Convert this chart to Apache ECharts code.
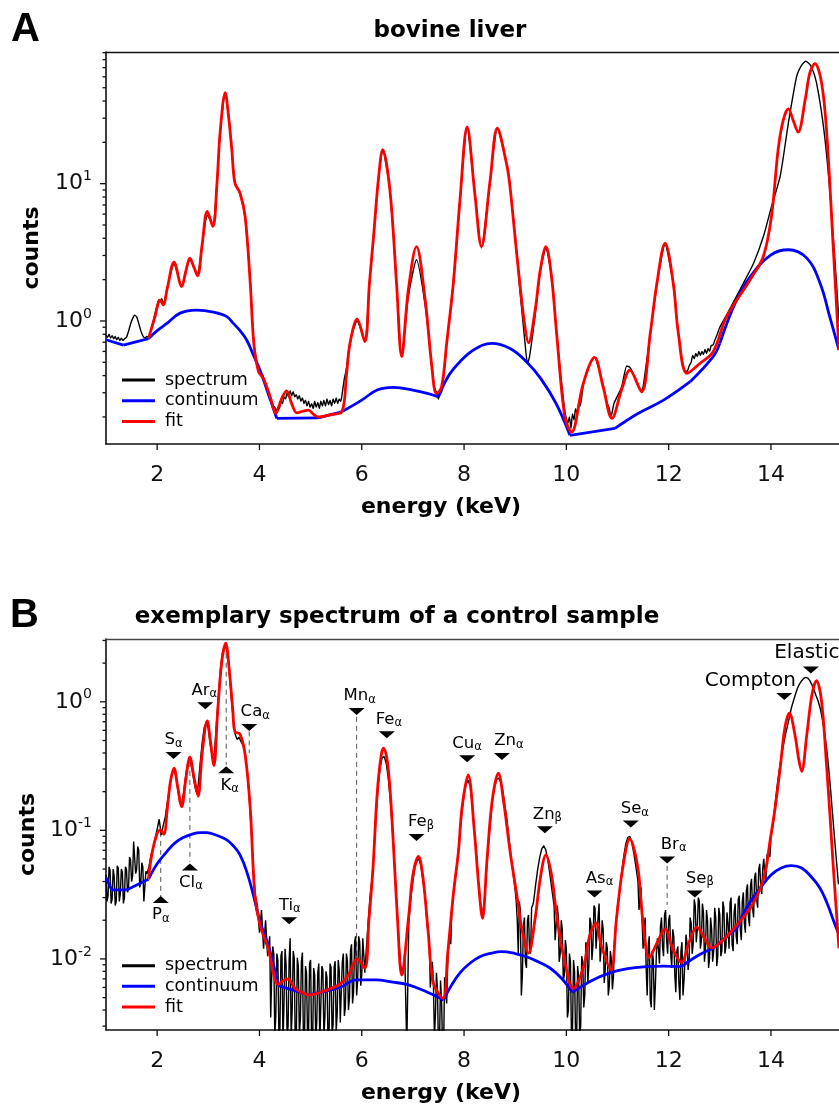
<!DOCTYPE html>
<html><head><meta charset="utf-8">
<script src="https://cdn.jsdelivr.net/npm/echarts@6/dist/echarts.min.js"></script>
<style>html,body{margin:0;padding:0;background:#fff}#c{width:839px;height:1106px}</style>
</head><body><div id="c"></div>
<script>
// ---------------- DATA ----------------
const xTickLabels = [2, 4, 6, 8, 10, 12, 14];
const yMajorA = [1, 10];
const yMinorA = [0.2,0.3,0.4,0.5,0.6,0.7,0.8,0.9,2,3,4,5,6,7,8,9,20,30,40,50,60,70,80,90];
const yMajorB = [0.01, 0.1, 1];
const yMinorB = [0.003,0.004,0.005,0.006,0.007,0.008,0.009,0.02,0.03,0.04,0.05,0.06,0.07,0.08,0.09,0.2,0.3,0.4,0.5,0.6,0.7,0.8,0.9,2,3];
const seriesNames = ['spectrum', 'continuum', 'fit'];

// Panel A: bovine liver  [energy keV, counts]
const fitA = [[1.83,0.743],[1.95,1.05],[2.06,1.42],[2.12,1.31],[2.2,1.75],[2.33,2.68],[2.48,1.78],[2.56,2.3],[2.64,2.87],[2.72,2.45],[2.79,2.13],[2.88,3.6],[2.98,6.28],[3.09,4.88],[3.17,10.1],[3.23,23.3],[3.33,46],[3.4,30],[3.46,17.6],[3.52,10.1],[3.62,8.55],[3.72,5.77],[3.82,1.89],[3.89,0.687],[3.98,0.43],[4.08,0.38],[4.21,0.28],[4.32,0.212],[4.43,0.27],[4.53,0.31],[4.63,0.25],[4.73,0.214],[4.85,0.22],[4.96,0.224],[5.05,0.21],[5.15,0.2],[5.4,0.208],[5.61,0.218],[5.7,0.4],[5.77,0.687],[5.91,1.03],[6.06,0.706],[6.15,1.88],[6.23,4.1],[6.33,11.2],[6.41,17.7],[6.55,9.0],[6.68,1.88],[6.78,0.55],[6.91,1.68],[7.07,3.48],[7.24,1.42],[7.37,0.465],[7.46,0.296],[7.56,0.33],[7.66,0.687],[7.79,1.88],[7.92,7.6],[8.06,25.9],[8.21,8.5],[8.34,3.48],[8.51,10.6],[8.65,25.4],[8.83,14],[8.89,10.1],[8.99,4.35],[9.09,1.88],[9.19,0.91],[9.26,0.694],[9.39,1.2],[9.49,2.35],[9.6,3.48],[9.71,2.1],[9.81,0.81],[9.97,0.2],[10.1,0.155],[10.33,0.35],[10.55,0.543],[10.72,0.33],[10.89,0.195],[11.08,0.315],[11.24,0.439],[11.47,0.305],[11.64,0.81],[11.77,1.88],[11.93,3.69],[12.09,1.88],[12.19,0.81],[12.36,0.415],[12.61,0.49],[12.87,0.597],[13.13,1.07],[13.59,1.99],[13.85,2.95],[14.01,5.78],[14.14,17.7],[14.24,29],[14.34,35],[14.44,28.5],[14.53,23.7],[14.67,41],[14.76,64],[14.86,75],[14.99,54],[15.09,23.4],[15.22,3.3],[15.33,0.614]];
const contA = [[1.0,0.73],[1.34,0.667],[1.83,0.743],[2.0,0.85],[2.19,0.96],[2.45,1.14],[2.77,1.2],[3.1,1.16],[3.36,1.075],[3.49,0.96],[3.62,0.85],[3.75,0.727],[3.88,0.565],[4.01,0.44],[4.17,0.296],[4.34,0.195],[5.15,0.197],[5.61,0.218],[6.0,0.265],[6.3,0.314],[6.62,0.328],[7.0,0.314],[7.3,0.296],[7.5,0.28],[7.7,0.4],[7.92,0.505],[8.2,0.62],[8.54,0.687],[8.9,0.63],[9.22,0.505],[9.5,0.38],[9.8,0.25],[10.07,0.147],[10.95,0.165],[11.4,0.212],[11.9,0.265],[12.42,0.361],[12.87,0.55],[13.0,0.687],[13.3,1.35],[13.6,2.11],[14.0,3.03],[14.34,3.3],[14.7,2.87],[14.96,1.885],[15.15,1.07],[15.33,0.614]];
const contKinksA = [1.34, 1.83, 4.34, 5.15, 5.61, 7.5, 10.07, 10.95, 12.42, 13.0];
const specA = [[1.00,0.79],[1.03,0.76],[1.06,0.8],[1.09,0.75],[1.12,0.78],[1.15,0.74],[1.18,0.77],[1.21,0.73],[1.24,0.76],[1.27,0.72],[1.30,0.75],[1.33,0.72],[1.36,0.74],[1.40,0.76],[1.44,0.84],[1.48,0.95],[1.52,1.04],[1.56,1.1],[1.60,1.07],[1.64,0.96],[1.68,0.85],[1.72,0.78],[1.76,0.75],[1.80,0.77],[1.83,0.76],[1.95,1.1],[2.0,1.3],[2.03,1.42],[2.06,1.38],[2.09,1.45],[2.12,1.33],[2.2,1.75],[2.33,2.6],[2.48,1.8],[2.56,2.3],[2.64,2.8],[2.72,2.45],[2.79,2.2],[2.88,3.6],[2.98,5.9],[3.02,5.6],[3.09,5.0],[3.17,10.1],[3.23,23.3],[3.33,45],[3.4,30],[3.46,17.6],[3.52,10.1],[3.62,8.4],[3.72,5.6],[3.82,1.9],[3.89,0.7],[3.95,0.5],[4.00,0.44],[4.03,0.4],[4.06,0.41],[4.09,0.36],[4.12,0.35],[4.15,0.31],[4.18,0.3],[4.21,0.27],[4.24,0.26],[4.27,0.24],[4.30,0.235],[4.33,0.22],[4.36,0.235],[4.39,0.23],[4.42,0.26],[4.45,0.25],[4.48,0.28],[4.51,0.27],[4.54,0.3],[4.57,0.28],[4.60,0.31],[4.63,0.285],[4.66,0.305],[4.69,0.28],[4.72,0.29],[4.75,0.27],[4.78,0.285],[4.81,0.26],[4.84,0.275],[4.87,0.25],[4.90,0.265],[4.93,0.24],[4.96,0.26],[4.99,0.235],[5.02,0.25],[5.05,0.23],[5.08,0.26],[5.11,0.235],[5.14,0.255],[5.17,0.23],[5.20,0.26],[5.23,0.24],[5.26,0.265],[5.29,0.24],[5.32,0.27],[5.35,0.245],[5.38,0.265],[5.41,0.24],[5.44,0.27],[5.47,0.25],[5.50,0.275],[5.53,0.25],[5.56,0.27],[5.59,0.26],[5.62,0.3],[5.66,0.38],[5.7,0.45],[5.77,0.7],[5.91,1.0],[6.06,0.72],[6.15,1.88],[6.23,4.1],[6.33,11.2],[6.41,17.5],[6.55,9.0],[6.68,1.88],[6.78,0.56],[6.91,1.5],[7.07,2.79],[7.24,1.3],[7.37,0.47],[7.42,0.33],[7.46,0.3],[7.5,0.27],[7.53,0.31],[7.56,0.3],[7.66,0.68],[7.79,1.88],[7.92,7.6],[8.06,25.5],[8.21,8.6],[8.34,3.4],[8.51,10.6],[8.65,25],[8.83,14],[8.89,10.1],[8.99,4.4],[9.09,1.7],[9.19,0.7],[9.24,0.49],[9.28,0.55],[9.39,1.1],[9.49,2.3],[9.6,3.4],[9.71,2.1],[9.81,0.8],[9.97,0.22],[10.03,0.18],[10.06,0.2],[10.09,0.165],[10.12,0.21],[10.15,0.19],[10.18,0.23],[10.21,0.21],[10.24,0.25],[10.27,0.24],[10.33,0.34],[10.42,0.45],[10.55,0.54],[10.72,0.34],[10.8,0.25],[10.84,0.23],[10.87,0.2],[10.9,0.22],[10.93,0.25],[11.08,0.33],[11.18,0.47],[11.24,0.46],[11.3,0.42],[11.38,0.35],[11.47,0.31],[11.5,0.33],[11.64,0.8],[11.77,1.85],[11.93,3.6],[12.09,1.85],[12.19,0.8],[12.3,0.44],[12.36,0.43],[12.4,0.47],[12.44,0.5],[12.47,0.56],[12.5,0.53],[12.53,0.58],[12.56,0.55],[12.59,0.6],[12.62,0.56],[12.65,0.6],[12.68,0.57],[12.71,0.62],[12.74,0.58],[12.77,0.63],[12.8,0.6],[12.83,0.66],[12.87,0.67],[12.9,0.72],[12.95,0.8],[13.0,0.9],[13.13,1.1],[13.3,1.45],[13.46,1.88],[13.66,2.63],[13.85,4.1],[14.01,6.8],[14.18,11.3],[14.34,27.6],[14.5,60],[14.6,73],[14.68,78],[14.78,72],[14.89,54.5],[15.05,22.1],[15.19,5.78],[15.33,1.0]];

// Panel B: control sample
const fitB = [[1.83,0.0417],[1.92,0.0727],[2.06,0.101],[2.13,0.0933],[2.2,0.15],[2.26,0.24],[2.33,0.305],[2.4,0.22],[2.48,0.153],[2.56,0.25],[2.64,0.371],[2.72,0.26],[2.8,0.185],[2.88,0.4],[2.98,0.711],[3.04,0.5],[3.11,0.319],[3.18,0.8],[3.26,2.0],[3.34,2.86],[3.42,1.6],[3.48,0.85],[3.52,0.587],[3.62,0.56],[3.72,0.387],[3.82,0.149],[3.91,0.0315],[4.01,0.0184],[4.17,0.0121],[4.37,0.00635],[4.47,0.0068],[4.56,0.00698],[4.68,0.006],[4.79,0.00557],[4.96,0.00525],[5.3,0.0057],[5.57,0.00635],[5.74,0.0075],[5.91,0.01],[6.06,0.00847],[6.14,0.02],[6.22,0.0508],[6.3,0.19],[6.38,0.385],[6.43,0.436],[6.5,0.345],[6.56,0.19],[6.62,0.076],[6.7,0.02],[6.78,0.0075],[6.92,0.022],[7.0,0.045],[7.11,0.0626],[7.2,0.042],[7.3,0.016],[7.4,0.0065],[7.59,0.00494],[7.68,0.011],[7.79,0.0316],[7.89,0.0684],[7.96,0.15],[8.08,0.27],[8.2,0.1],[8.28,0.04],[8.36,0.0207],[8.45,0.06],[8.55,0.17],[8.67,0.279],[8.78,0.16],[8.9,0.0684],[9.03,0.0316],[9.13,0.0172],[9.26,0.0111],[9.39,0.0207],[9.49,0.0423],[9.6,0.0644],[9.71,0.045],[9.81,0.022],[9.94,0.0107],[10.14,0.0059],[10.33,0.0085],[10.46,0.0154],[10.58,0.019],[10.68,0.0128],[10.87,0.0082],[10.98,0.0206],[11.1,0.0504],[11.24,0.0859],[11.4,0.0504],[11.49,0.0207],[11.62,0.0102],[11.78,0.0135],[11.93,0.0171],[12.08,0.012],[12.25,0.0094],[12.4,0.0135],[12.55,0.0177],[12.7,0.0145],[12.84,0.0122],[13.1,0.0145],[13.33,0.0184],[13.6,0.025],[13.79,0.0355],[13.9,0.05],[13.98,0.0818],[14.08,0.148],[14.18,0.305],[14.27,0.621],[14.36,0.817],[14.47,0.55],[14.54,0.363],[14.6,0.287],[14.7,0.55],[14.8,1.13],[14.89,1.46],[14.99,1.0],[15.09,0.305],[15.16,0.12],[15.22,0.0508],[15.33,0.0121]];
const contB = [[1.0,0.043],[1.11,0.0344],[1.4,0.0344],[1.83,0.0417],[2.0,0.055],[2.19,0.0684],[2.35,0.08],[2.51,0.0879],[2.7,0.094],[2.85,0.096],[2.97,0.0961],[3.15,0.092],[3.36,0.0843],[3.5,0.075],[3.62,0.0644],[3.75,0.048],[3.88,0.0315],[4.01,0.0195],[4.17,0.0128],[4.28,0.0088],[4.37,0.0062],[4.96,0.00525],[5.57,0.006],[5.9,0.00687],[6.29,0.00687],[6.6,0.0066],[6.88,0.00635],[7.2,0.0057],[7.6,0.0048],[7.75,0.0062],[7.92,0.0078],[8.12,0.0093],[8.31,0.0104],[8.5,0.011],[8.74,0.0114],[9.0,0.011],[9.22,0.0104],[9.45,0.0095],[9.68,0.0085],[9.9,0.0071],[10.12,0.0055],[10.5,0.0068],[10.85,0.0078],[11.2,0.0084],[11.57,0.0087],[11.9,0.0088],[12.25,0.0087],[12.55,0.0105],[12.87,0.0121],[13.1,0.0145],[13.33,0.0173],[13.55,0.026],[13.79,0.0355],[14.0,0.045],[14.2,0.051],[14.4,0.0532],[14.6,0.051],[14.8,0.043],[14.96,0.0355],[15.1,0.027],[15.22,0.02],[15.33,0.0154]];
const contKinksB = [1.11, 1.4, 1.83, 4.37, 4.96, 7.6, 10.12, 12.25, 12.87, 13.33];
// measured spectrum B: one reading every 0.04 keV starting at 1.00 keV
const specBStart = 1.0, specBStep = 0.04;
const specB = [
0.045,0.031,0.049,0.029,0.044,0.028,0.051,0.032,0.047,0.030,
0.050,0.035,0.059,0.044,0.080,0.050,0.070,0.039,0.052,0.029,
0.046,0.052,0.064,0.072,0.086,0.102,0.122,0.092,0.11,0.128,
0.165,0.21,0.26,0.30,0.27,0.21,0.165,0.158,0.20,0.27,
0.34,0.36,0.30,0.24,0.20,0.22,0.33,0.48,0.63,0.69,
0.62,0.46,0.37,0.40,0.68,1.15,1.85,2.45,2.75,2.55,
1.9,1.2,0.78,0.57,0.51,0.53,0.49,0.46,0.40,0.29,
0.18,0.10,0.05,0.031,0.026,0.016,0.024,0.012,0.02,0.0105,
0.015,0.0075,0.011,0.0036,0.0098,0.0028,0.0115,0.0045,0.0092,0.003,
0.0145,0.004,0.0102,0.0024,0.0088,0.0034,0.0112,0.0023,0.0078,0.0027,
0.0098,0.0023,0.0075,0.0032,0.0092,0.0022,0.0082,0.0036,0.0072,0.0024,
0.0086,0.0031,0.0096,0.0038,0.0082,0.0032,0.011,0.0042,0.0096,0.005,
0.013,0.0055,0.015,0.0068,0.0135,0.0075,0.014,0.0105,0.018,0.03,
0.042,0.07,0.13,0.22,0.31,0.37,0.375,0.33,0.25,0.17,
0.1,0.055,0.028,0.015,0.009,0.0075,0.011,0.002,0.019,0.03,
0.04,0.052,0.058,0.06,0.052,0.04,0.03,0.018,0.014,0.0075,
0.0068,0.0036,0.0058,0.0022,0.0048,0.0021,0.0062,0.009,0.016,0.023,
0.035,0.047,0.064,0.095,0.14,0.19,0.23,0.245,0.22,0.16,
0.1,0.065,0.04,0.027,0.022,0.029,0.05,0.08,0.125,0.18,
0.22,0.25,0.255,0.235,0.2,0.155,0.12,0.085,0.062,0.046,
0.034,0.02,0.028,0.0052,0.018,0.0095,0.02,0.0115,0.025,0.028,
0.038,0.05,0.062,0.072,0.076,0.07,0.058,0.045,0.034,0.026,
0.018,0.022,0.011,0.017,0.0075,0.012,0.004,0.0095,0.0028,0.008,
0.0022,0.0072,0.003,0.0095,0.0052,0.0125,0.009,0.019,0.013,0.025,
0.016,0.027,0.012,0.017,0.0082,0.0122,0.0062,0.01,0.0072,0.017,
0.026,0.033,0.047,0.062,0.078,0.088,0.09,0.08,0.066,0.052,
0.04,0.03,0.02,0.017,0.0085,0.0125,0.0048,0.0115,0.004,0.011,
0.012,0.018,0.0125,0.022,0.014,0.02,0.011,0.017,0.0075,0.0115,
0.0065,0.0115,0.0052,0.01,0.013,0.0098,0.019,0.0132,0.026,0.017,
0.028,0.014,0.023,0.012,0.02,0.0102,0.017,0.0115,0.021,0.0105,
0.022,0.0115,0.025,0.0125,0.019,0.027,0.013,0.023,0.015,0.029,
0.017,0.028,0.019,0.034,0.021,0.037,0.025,0.043,0.029,0.049,
0.037,0.051,0.044,0.063,0.07,0.09,0.11,0.16,0.22,0.29,
0.37,0.45,0.55,0.64,0.76,0.9,1.02,1.15,1.28,1.38,
1.46,1.52,1.55,1.53,1.46,1.36,1.24,1.12,1.02,0.9,
0.75,0.6,0.46,0.33,0.22,0.14,0.09,0.058,0.038];
// extra in-between readings of spectrum B in the noisy stretches (every 0.04 keV from the given start)
const specBMid1Start = 1.02;
const specBMid1 = [0.028,0.052,0.027,0.05,0.026,0.053,0.028,0.05,0.027,0.052,0.033,0.062,0.04,0.082,0.046,0.075,0.036,0.056,0.028,0.048];
const specBMid2Start = 4.22;
const specBMid2 = [0.0035,0.0125,0.0025,0.011,0.0026,0.0105,0.0022,0.012,0.0025,0.0098,
0.0024,0.0115,0.0021,0.0102,0.0026,0.0095,0.0022,0.0088,0.0025,0.0092,
0.0021,0.0085,0.0024,0.0078,0.0022,0.0088,0.0025,0.008,0.0023,0.0092,
0.0026,0.0086,0.0027,0.0098,0.0032,0.0095,0.0036,0.011,0.004,0.0115,
0.0045,0.0135,0.0052,0.015,0.0062,0.0145,0.0078];
const specBMid3Start = 7.34;
const specBMid3 = [0.006,0.0095,0.0025,0.0078,0.002,0.0068,0.002,0.0072,0.0045,0.0135,0.013];
const specBMid4Start = 9.02;
const specBMid4 = [0.028,0.011,0.024,0.0075,0.021,0.0085,0.022,0.011,0.026];
const specBMid5Start = 9.78;
const specBMid5 = [0.014,0.026,0.0095,0.02,0.0068,0.014,0.0035,0.011,0.0024,0.0098,
0.0025,0.0088,0.0026,0.0105,0.0042,0.0135,0.0065,0.021,0.0098,0.026,
0.012,0.021,0.0095,0.02,0.0065,0.0135,0.0052,0.0115,0.0058,0.0135,0.021];
const specBMid6Start = 11.42;
const specBMid6 = [0.024,0.036,0.012,0.021,0.0052,0.015,0.0042,0.0098,0.0062,0.0145,
0.0092,0.021,0.0105,0.024,0.011,0.022,0.0085,0.015,0.0055,0.0125,
0.0048,0.0135,0.0068,0.0155,0.0082,0.021,0.011,0.029,0.0135,0.03,
0.012,0.027,0.0095,0.024,0.0085,0.021,0.0095,0.025,0.0088,0.025,
0.0105,0.028,0.011,0.023,0.012,0.03,0.0115,0.027,0.013,0.031,
0.014,0.033,0.016,0.038,0.018,0.042,0.021,0.047,0.025,0.055,
0.032,0.06,0.04,0.068,0.062];

// Peak annotations (panel B)
const annText = ['S','Ar','Ca','K','Cl','P','Ti','Mn','Fe','Fe','Cu','Zn','Zn','As','Se','Br','Se','Compton','Elastic'];
const annSub  = ['α','α','α','α','α','α','α','α','α','β','α','α','β','α','α','α','β','',''];
const annE    = [2.32,2.94,3.8,3.35,2.64,2.07,4.58,5.9,6.49,7.07,8.06,8.74,9.58,10.55,11.26,11.97,12.51,14.26,14.78];
const annY    = [0.382,0.931,0.631,0.296,0.052,0.029,0.0198,0.84,0.554,0.0879,0.36,0.375,0.101,0.032,0.112,0.0589,0.032,1.1,1.77];
const annPointsDown = [true,true,true,false,false,false,true,true,true,true,true,true,true,true,true,true,true,true,true];
// dashed guide lines (panel B): energy, upper and lower counts
const dashE      = [2.07, 2.64, 3.35, 3.8, 5.9, 11.97];
const dashTop    = [0.0973, 0.341, 2.78, 0.588, 0.764, 0.053];
const dashBottom = [0.0304, 0.0569, 0.323, 0.399, 0.0102, 0.0263];

// ---------------- LAYOUT / STYLE ----------------
const X_MIN = 1, X_MAX = 15.33;
const A_YMIN = 0.127, A_YMAX = 91;
const B_YMIN = 0.0028, B_YMAX = 3.08;
const annLabelDx = [0,-1,6,3.5,1,0,0.7,3,2,4.5,0,7,2.5,5,4,6.5,5,-34,-4];
const FONT = 'DejaVu Sans';
const C_SPEC = '#000000', C_CONT = '#0000ff', C_FIT = '#ff0000';

function stepPairs(start, step, vals) {
  return vals.map((v, i) => [+(start + i * step).toFixed(2), v]);
}
const specBPairs = [].concat(
  stepPairs(specBStart, specBStep, specB),
  stepPairs(specBMid1Start, specBStep, specBMid1),
  stepPairs(specBMid2Start, specBStep, specBMid2),
  stepPairs(specBMid3Start, specBStep, specBMid3),
  stepPairs(specBMid4Start, specBStep, specBMid4),
  stepPairs(specBMid5Start, specBStep, specBMid5),
  stepPairs(specBMid6Start, specBStep, specBMid6)
).sort((a, b) => a[0] - b[0]);

function splitAtKinks(pts, kinks) {
  const segs = []; let cur = [];
  pts.forEach(p => { cur.push(p); if (kinks.indexOf(p[0]) >= 0 && cur.length > 1) { segs.push(cur); cur = [p]; } });
  if (cur.length > 1) segs.push(cur);
  return segs;
}

function powLabel(v) {
  const n = Math.round(Math.log10(v));
  if (Math.abs(v / Math.pow(10, n) - 1) > 1e-6) return '';
  return '{b|10}{s|' + n + '}';
}
function xLabel(v) {
  return xTickLabels.some(t => Math.abs(t - v) < 1e-9) ? String(Math.round(v)) : '';
}

const yLabelRich = {
  b: { fontFamily: FONT, fontSize: 22, lineHeight: 28, color: '#111' },
  s: { fontFamily: FONT, fontSize: 14, lineHeight: 14, verticalAlign: 'top', color: '#111' }
};
const axisLineStyle = { color: '#111', width: 1.6 };
const nameStyle = { fontFamily: FONT, fontWeight: 'bold', fontSize: 22, lineHeight: 22, color: '#000' };

function xAxisBottom(gi) {
  return {
    gridIndex: gi, type: 'value', min: X_MIN, max: X_MAX, splitNumber: 7, minInterval: 2, maxInterval: 2,
    axisLine: { show: true, lineStyle: axisLineStyle }, axisTick: { show: false }, splitLine: { show: false },
    axisLabel: { formatter: xLabel, margin: 20, fontFamily: FONT, fontSize: 22, color: '#111', showMinLabel: false, showMaxLabel: false },
    name: 'energy (keV)', nameLocation: 'middle', nameGap: 52.5,
    nameTextStyle: Object.assign({}, nameStyle, { padding: [0, 63, 0, 0] })
  };
}
function xAxisTop(gi, col) {
  return {
    gridIndex: gi, type: 'value', position: 'top', min: X_MIN, max: X_MAX,
    axisLine: { show: true, lineStyle: { color: col, width: 1.4 } }, axisTick: { show: false },
    axisLabel: { show: false }, splitLine: { show: false }
  };
}
function yAxis(gi, mn, mx) {
  return {
    gridIndex: gi, type: 'log', logBase: 10, min: mn, max: mx,
    axisLine: { show: true, lineStyle: axisLineStyle }, axisTick: { show: false }, splitLine: { show: false },
    minorTick: { show: false }, minorSplitLine: { show: false },
    axisLabel: { formatter: powLabel, margin: 14, rich: yLabelRich },
    name: 'counts', nameLocation: 'middle', nameGap: 63, nameTextStyle: nameStyle
  };
}

function tickSeries(gi, yMajor, yMinor, yMin) {
  const data = [];
  xTickLabels.forEach(v => data.push([v, yMin, 2]));
  yMajor.forEach(v => data.push([X_MIN, v, 1]));
  yMinor.forEach(v => data.push([X_MIN, v, 0]));
  return {
    type: 'custom', xAxisIndex: gi, yAxisIndex: gi, data: data, clip: false, silent: true, z: 10,
    renderItem: function (params, api) {
      const p = api.coord([api.value(0), api.value(1)]);
      const k = api.value(2);
      let shape;
      if (k === 2) shape = { x1: p[0], y1: p[1], x2: p[0], y2: p[1] + 6 };
      else { const len = k === 1 ? 6 : 3.5; shape = { x1: p[0] - len, y1: p[1], x2: p[0], y2: p[1] }; }
      return { type: 'line', shape: shape, style: { stroke: '#111', lineWidth: 1.3 } };
    }
  };
}

function panelSeries(gi, spec, cont, kinks, fit, specSmooth, specWidth) {
  const out = [];
  out.push({ type: 'line', name: 'spectrum', xAxisIndex: gi, yAxisIndex: gi, data: spec, showSymbol: false,
    smooth: specSmooth, lineStyle: { color: C_SPEC, width: specWidth }, itemStyle: { color: C_SPEC }, z: 2, silent: true });
  splitAtKinks(cont, kinks).forEach(seg => out.push({ type: 'line', name: 'continuum', xAxisIndex: gi, yAxisIndex: gi,
    data: seg, showSymbol: false, smooth: 0.4, lineStyle: { color: C_CONT, width: 2.8 }, itemStyle: { color: C_CONT }, z: 3, silent: true }));
  out.push({ type: 'line', name: 'fit', xAxisIndex: gi, yAxisIndex: gi, data: fit, showSymbol: false,
    smooth: 0.35, lineStyle: { color: C_FIT, width: 2.8 }, itemStyle: { color: C_FIT }, z: 4, silent: true });
  return out;
}

const markerData = annE.map((e, i) => {
  const down = annPointsDown[i];
  const big = !annSub[i];
  return {
    value: [e, annY[i]],
    symbolRotate: down ? 180 : 0,
    label: {
      show: true,
      position: down ? 'top' : 'bottom',
      distance: big ? (annText[i] === 'Elastic' ? 3 : 1.5) : 2,
      offset: [annLabelDx[i], 0],
      formatter: big ? '{c|' + annText[i] + '}' : '{m|' + annText[i] + '}{s|' + annSub[i] + '}',
      rich: {
        m: { fontFamily: FONT, fontSize: 16.5, lineHeight: 20, color: '#000' },
        s: { fontFamily: FONT, fontSize: 11.5, lineHeight: 11, verticalAlign: 'bottom', color: '#000' },
        c: { fontFamily: FONT, fontSize: 20, lineHeight: 22, color: '#000' }
      }
    }
  };
});

const legendBase = {
  data: seriesNames, orient: 'vertical', left: 122, itemWidth: 33, itemHeight: 3, itemGap: 0, icon: 'rect',
  selectedMode: false, padding: 0,
  textStyle: { fontFamily: FONT, fontSize: 17.5, lineHeight: 20.7, color: '#000', padding: [0, 0, 0, 5] }
};

const option = {
  animation: false,
  backgroundColor: '#ffffff',
  title: [
    { text: 'A', left: 11, top: 10, padding: 0, textStyle: { fontFamily: 'Liberation Sans', fontSize: 40, fontWeight: 'bold', lineHeight: 40, color: '#000' } },
    { text: 'B', left: 10, top: 596, padding: 0, textStyle: { fontFamily: 'Liberation Sans', fontSize: 40, fontWeight: 'bold', lineHeight: 40, color: '#000' } },
    { text: 'bovine liver', left: 450, textAlign: 'center', top: 18, padding: 0, textStyle: { fontFamily: FONT, fontSize: 23, fontWeight: 'bold', lineHeight: 26, color: '#000' } },
    { text: 'exemplary spectrum of a control sample', left: 397, textAlign: 'center', top: 604, padding: 0, textStyle: { fontFamily: FONT, fontSize: 23, fontWeight: 'bold', lineHeight: 26, color: '#000' } }
  ],
  legend: [
    Object.assign({}, legendBase, { top: 369.7 }),
    Object.assign({}, legendBase, { top: 955.3 })
  ],
  grid: [
    { left: 106, top: 52, width: 733, height: 392 },
    { left: 106, top: 639, width: 733, height: 391 }
  ],
  xAxis: [xAxisBottom(0), xAxisBottom(1), xAxisTop(0, '#111'), xAxisTop(1, '#444')],
  yAxis: [yAxis(0, A_YMIN, A_YMAX), yAxis(1, B_YMIN, B_YMAX)],
  series: [].concat(
    panelSeries(0, specA, contA, contKinksA, fitA, 0.2, 1.4),
    panelSeries(1, specBPairs, contB, contKinksB, fitB, false, 1.4),
    [
      tickSeries(0, yMajorA, yMinorA, A_YMIN),
      tickSeries(1, yMajorB, yMinorB, B_YMIN),
      {
        type: 'custom', xAxisIndex: 1, yAxisIndex: 1, silent: true, z: 1, clip: true,
        data: dashE.map((e, i) => [e, dashTop[i], dashBottom[i]]),
        renderItem: function (params, api) {
          const p1 = api.coord([api.value(0), api.value(1)]);
          const p2 = api.coord([api.value(0), api.value(2)]);
          return { type: 'line', shape: { x1: p1[0], y1: p1[1], x2: p2[0], y2: p2[1] },
            style: { stroke: '#555', lineWidth: 1, lineDash: [5, 4] } };
        }
      },
      {
        type: 'scatter', name: 'markers', xAxisIndex: 1, yAxisIndex: 1, symbol: 'triangle', symbolSize: [16, 7],
        itemStyle: { color: '#000', opacity: 1 }, data: markerData, z: 6, silent: true
      }
    ]
  )
};

const chart = echarts.init(document.getElementById('c'), null, { renderer: 'canvas', devicePixelRatio: 1 });
chart.setOption(option);
</script></body></html>
